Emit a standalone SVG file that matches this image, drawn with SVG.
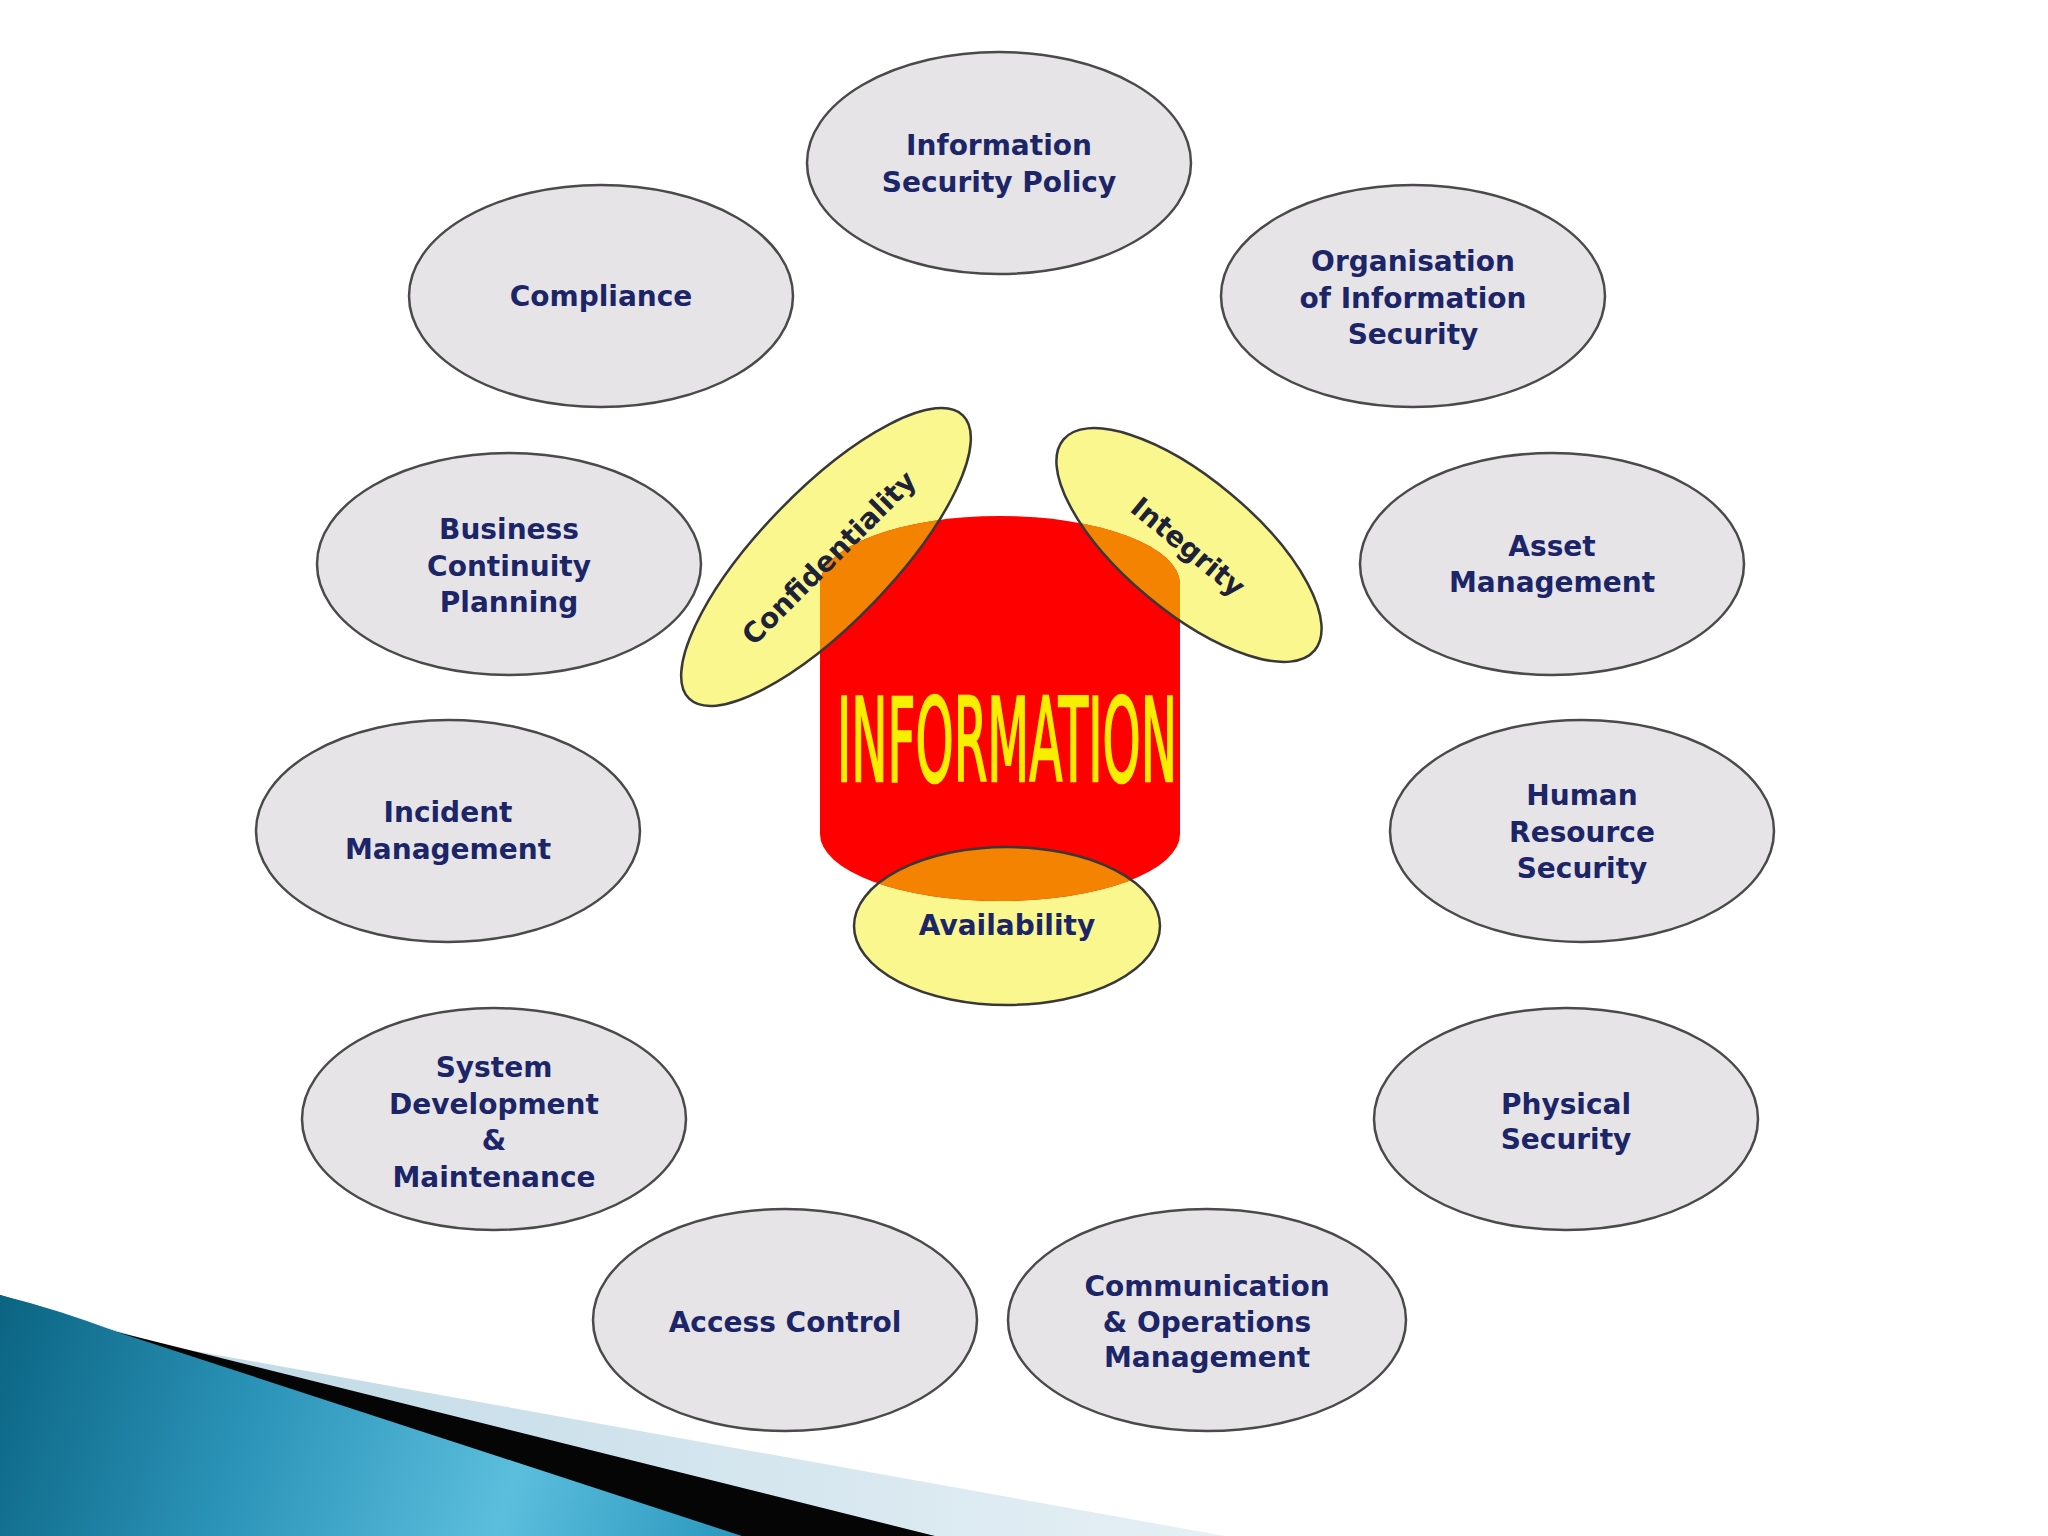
<svg xmlns="http://www.w3.org/2000/svg" width="2048" height="1536" viewBox="0 0 2048 1536">
  <style>
    .node { fill: #E6E4E6; stroke: #4A4A4A; stroke-width: 2.5; }
    .lbl { font-family: "DejaVu Sans", Verdana, sans-serif; font-weight: bold; font-size: 28px; fill: #1B2568; text-anchor: middle; }
    .yfill { fill: #F9F78E; }
    .ofill { fill: #F38300; }
    .yline { fill: none; stroke: #383838; stroke-width: 2.5; }
    .clbl { font-family: "DejaVu Sans", Verdana, sans-serif; font-weight: bold; font-size: 28px; fill: #1E2238; text-anchor: middle; dominant-baseline: central; }
  </style>
  <defs>
    <linearGradient id="teal" x1="0" y1="1300" x2="740" y2="1536" gradientUnits="userSpaceOnUse">
      <stop offset="0" stop-color="#0B6482"/>
      <stop offset="0.35" stop-color="#2B93B8"/>
      <stop offset="0.7" stop-color="#5BBEDD"/>
      <stop offset="1" stop-color="#2A97BD"/>
    </linearGradient>
    <linearGradient id="pale" x1="150" y1="0" x2="1230" y2="0" gradientUnits="userSpaceOnUse">
      <stop offset="0" stop-color="#BFD9E6"/>
      <stop offset="1" stop-color="#E6F0F5"/>
    </linearGradient>
    <clipPath id="cyl">
      <path d="M820,584 A180,68 0 0 1 1180,584 L1180,834 A180,67 0 0 1 820,834 Z"/>
    </clipPath>
  </defs>
  <rect x="0" y="0" width="2048" height="1536" fill="#FFFFFF"/>

  <!-- bottom-left decoration -->
  <g id="decoration">
    <polygon points="0,1295 167,1346 1225,1536 0,1536" fill="url(#pale)"/>
    <polygon points="0,1295 117,1332 935,1536 0,1536" fill="#050505"/>
    <path d="M0,1295 Q60,1310 117,1332 L742,1536 L0,1536 Z" fill="url(#teal)"/>
  </g>

  <g id="connectors"></g>

  <g id="n-policy">
    <ellipse class="node" cx="999" cy="163" rx="192" ry="111"/>
    <text class="lbl" x="999" y="155">Information</text>
    <text class="lbl" x="999" y="192">Security Policy</text>
  </g>
  <g id="n-compliance">
    <ellipse class="node" cx="601" cy="296" rx="192" ry="111"/>
    <text class="lbl" x="601" y="306">Compliance</text>
  </g>
  <g id="n-organisation">
    <ellipse class="node" cx="1413" cy="296" rx="192" ry="111"/>
    <text class="lbl" x="1413" y="271">Organisation</text>
    <text class="lbl" x="1413" y="308">of Information</text>
    <text class="lbl" x="1413" y="344">Security</text>
  </g>
  <g id="n-business">
    <ellipse class="node" cx="509" cy="564" rx="192" ry="111"/>
    <text class="lbl" x="509" y="539">Business</text>
    <text class="lbl" x="509" y="576">Continuity</text>
    <text class="lbl" x="509" y="612">Planning</text>
  </g>
  <g id="n-asset">
    <ellipse class="node" cx="1552" cy="564" rx="192" ry="111"/>
    <text class="lbl" x="1552" y="556">Asset</text>
    <text class="lbl" x="1552" y="592">Management</text>
  </g>
  <g id="n-incident">
    <ellipse class="node" cx="448" cy="831" rx="192" ry="111"/>
    <text class="lbl" x="448" y="822">Incident</text>
    <text class="lbl" x="448" y="859">Management</text>
  </g>
  <g id="n-human">
    <ellipse class="node" cx="1582" cy="831" rx="192" ry="111"/>
    <text class="lbl" x="1582" y="805">Human</text>
    <text class="lbl" x="1582" y="842">Resource</text>
    <text class="lbl" x="1582" y="878">Security</text>
  </g>
  <g id="n-system">
    <ellipse class="node" cx="494" cy="1119" rx="192" ry="111"/>
    <text class="lbl" x="494" y="1077">System</text>
    <text class="lbl" x="494" y="1114">Development</text>
    <text class="lbl" x="494" y="1150">&amp;</text>
    <text class="lbl" x="494" y="1187">Maintenance</text>
  </g>
  <g id="n-physical">
    <ellipse class="node" cx="1566" cy="1119" rx="192" ry="111"/>
    <text class="lbl" x="1566" y="1114">Physical</text>
    <text class="lbl" x="1566" y="1149">Security</text>
  </g>
  <g id="n-access">
    <ellipse class="node" cx="785" cy="1320" rx="192" ry="111"/>
    <text class="lbl" x="785" y="1332">Access Control</text>
  </g>
  <g id="n-communication">
    <ellipse class="node" cx="1207" cy="1320" rx="199" ry="111"/>
    <text class="lbl" x="1207" y="1296">Communication</text>
    <text class="lbl" x="1207" y="1332">&amp; Operations</text>
    <text class="lbl" x="1207" y="1367">Management</text>
  </g>

  <!-- central information cylinder with CIA ellipses -->
  <g id="n-information">
    <ellipse class="yfill" cx="826" cy="557" rx="197" ry="66" transform="rotate(-46 826 557)"/>
    <ellipse class="yfill" cx="1189" cy="545" rx="164" ry="66" transform="rotate(40 1189 545)"/>
    <ellipse class="yfill" cx="1007" cy="926" rx="153" ry="79"/>
    <path d="M820,584 A180,68 0 0 1 1180,584 L1180,834 A180,67 0 0 1 820,834 Z" fill="#FE0000"/>
    <g clip-path="url(#cyl)">
      <ellipse class="ofill" cx="826" cy="557" rx="197" ry="66" transform="rotate(-46 826 557)"/>
      <ellipse class="ofill" cx="1189" cy="545" rx="164" ry="66" transform="rotate(40 1189 545)"/>
      <ellipse class="ofill" cx="1007" cy="926" rx="153" ry="79"/>
    </g>
    <text x="1007" y="781" textLength="340" lengthAdjust="spacingAndGlyphs" text-anchor="middle" font-family="DejaVu Sans, Verdana, sans-serif" font-size="116" fill="#F7EF00" stroke="#F7EF00" stroke-width="2.5">INFORMATION</text>
  </g>
  <g id="n-confidentiality">
    <ellipse class="yline" cx="826" cy="557" rx="197" ry="66" transform="rotate(-46 826 557)"/>
    <text class="clbl" x="829" y="558" transform="rotate(-45 829 558)">Confidentiality</text>
  </g>
  <g id="n-integrity">
    <ellipse class="yline" cx="1189" cy="545" rx="164" ry="66" transform="rotate(40 1189 545)"/>
    <text class="clbl" x="1188" y="547" transform="rotate(39.5 1188 547)">Integrity</text>
  </g>
  <g id="n-availability">
    <ellipse class="yline" cx="1007" cy="926" rx="153" ry="79"/>
    <text class="lbl" x="1007" y="935">Availability</text>
  </g>
</svg>
